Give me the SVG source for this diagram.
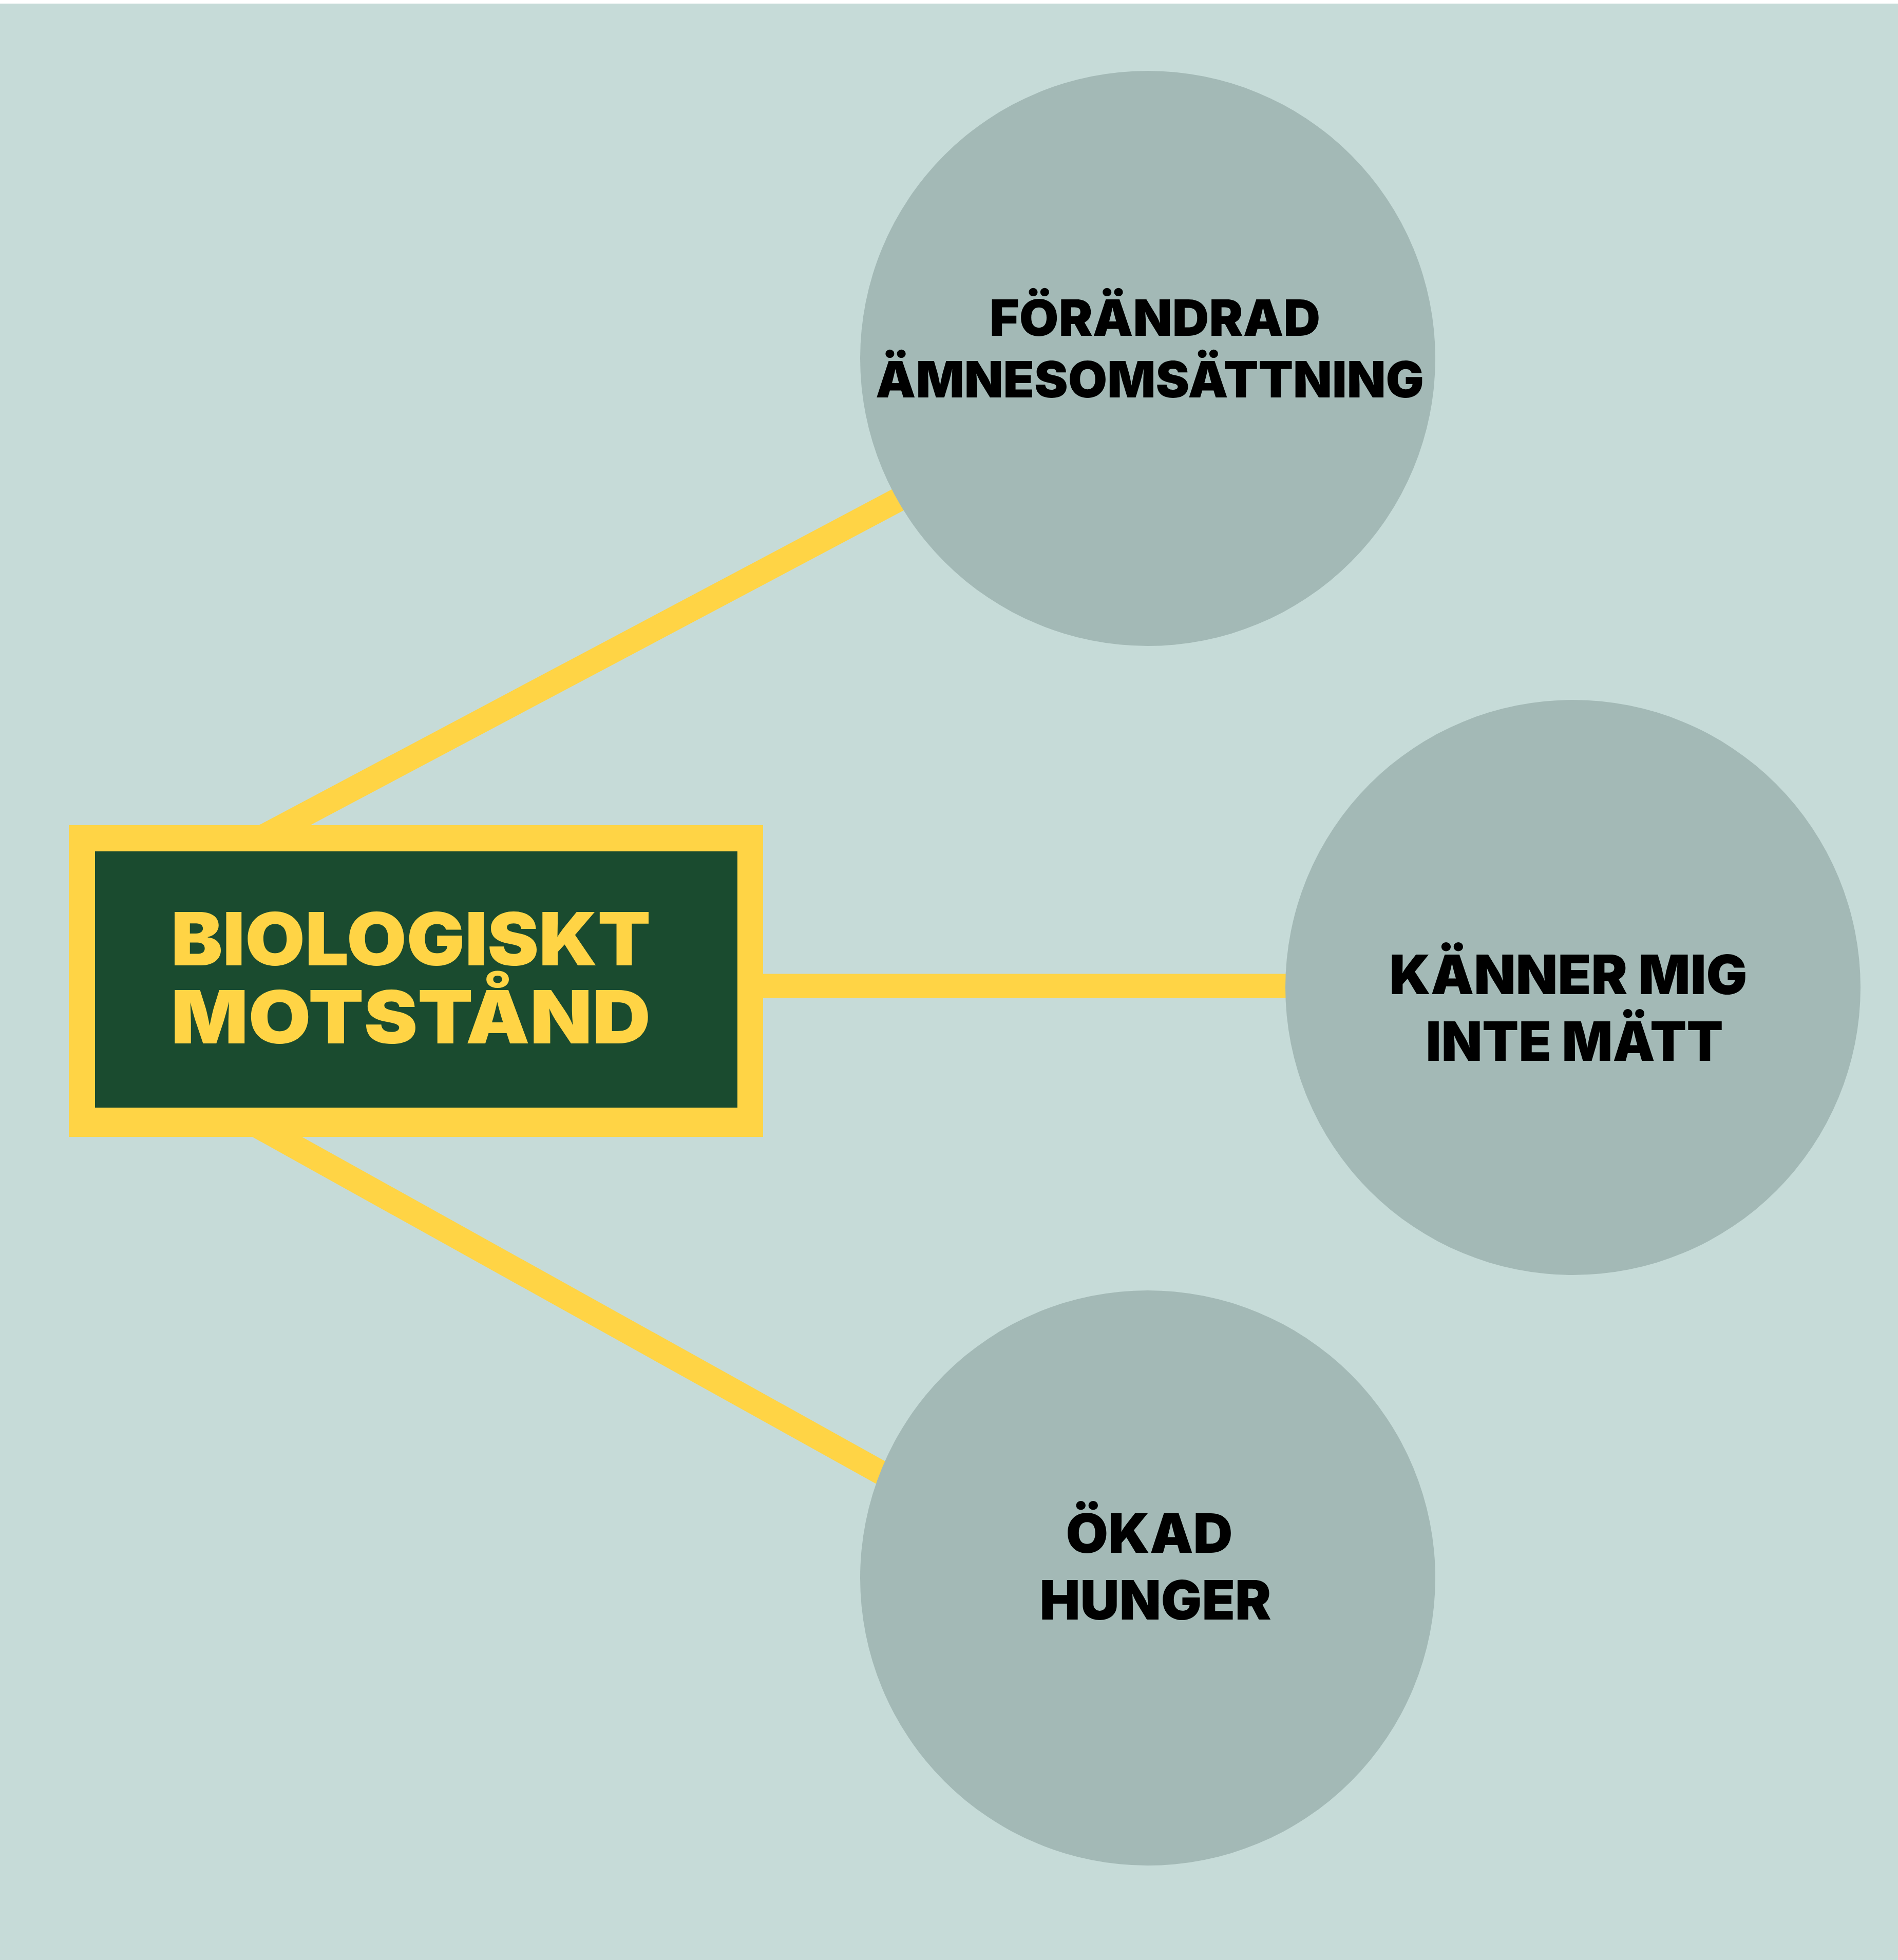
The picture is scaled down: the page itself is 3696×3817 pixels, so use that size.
<svg xmlns="http://www.w3.org/2000/svg" width="3696" height="3817" viewBox="0 0 3696 3817">
  <style>
    .bg { fill: #c6dbd8; }
    .circle { fill: #a3b9b6; }
    .conn { stroke: #ffd445; stroke-width: 47; fill: none; stroke-linecap: butt; }
    .lbl { font-family: Inter, "Liberation Sans", sans-serif; font-weight: 900; fill: #000000; text-anchor: middle; }
    .main { font-family: Inter, "Liberation Sans", sans-serif; font-weight: 900; fill: #ffd445; text-anchor: start; }
  </style>
  <rect x="0" y="0" width="3696" height="3817" fill="#ffffff"/>
  <rect class="bg" x="0" y="7" width="3696" height="3810"/>

  <g id="connectors">
    <line class="conn" x1="492" y1="1640" x2="1800" y2="946"/>
    <line class="conn" x1="1400" y1="1920" x2="2600" y2="1920"/>
    <line class="conn" x1="500" y1="2192" x2="1800" y2="2915"/>
  </g>

  <g id="node-biologiskt">
    <rect x="134" y="1607" width="1352" height="607" fill="#ffd445"/>
    <rect x="185" y="1658" width="1251" height="499" fill="#1a4b2f"/>
    <text class="main" x="333" y="1880" font-size="143" textLength="934" lengthAdjust="spacingAndGlyphs">BIOLOGISKT</text>
    <text class="main" x="333" y="2032" font-size="143" textLength="934" lengthAdjust="spacingAndGlyphs">MOTSTÅND</text>
  </g>

  <g id="node-forandrad">
    <circle class="circle" cx="2235" cy="698" r="560"/>
    <text class="lbl" x="2249" y="654" font-size="98" textLength="644" lengthAdjust="spacingAndGlyphs">FÖRÄNDRAD</text>
    <text class="lbl" x="2239" y="774" font-size="98" textLength="1068" lengthAdjust="spacingAndGlyphs">ÄMNESOMSÄTTNING</text>
  </g>

  <g id="node-kanner">
    <circle class="circle" cx="3063" cy="1923" r="560"/>
    <text class="lbl" x="3054" y="1936" font-size="106" textLength="697" lengthAdjust="spacingAndGlyphs">KÄNNER MIG</text>
    <text class="lbl" x="3066" y="2066" font-size="106" textLength="579" lengthAdjust="spacingAndGlyphs">INTE MÄTT</text>
  </g>

  <g id="node-okad">
    <circle class="circle" cx="2235" cy="3073" r="560"/>
    <text class="lbl" x="2238" y="3024" font-size="106" textLength="325" lengthAdjust="spacingAndGlyphs">ÖKAD</text>
    <text class="lbl" x="2250" y="3154" font-size="106" textLength="451" lengthAdjust="spacingAndGlyphs">HUNGER</text>
  </g>
</svg>
